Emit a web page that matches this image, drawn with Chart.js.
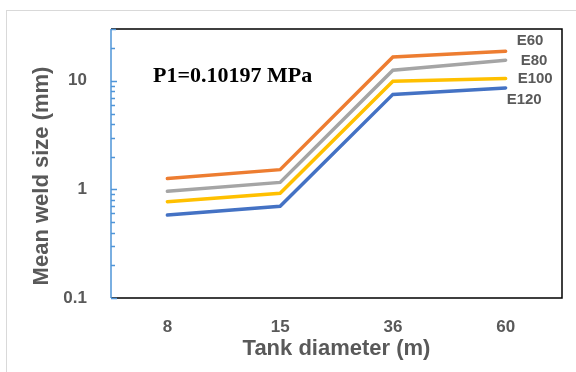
<!DOCTYPE html>
<html>
<head>
<meta charset="utf-8">
<script src="https://cdn.jsdelivr.net/npm/chart.js@4.4.0/dist/chart.umd.min.js"></script>
<style>
  html, body { margin: 0; padding: 0; background: #fff; overflow: hidden; }
  #wrap { position: relative; width: 576px; height: 372px; }
  #frame { position: absolute; left: 6px; top: 10px; width: 620px; height: 420px; border: 1px solid #d9d9d9; }
  canvas { position: absolute; left: 0; top: 0; }
</style>
</head>
<body>
<div id="wrap">
  <div id="frame"></div>
  <canvas id="chartroot" width="576" height="372"></canvas>
</div>
<script>
// data
const diameters = ['8', '15', '36', '60'];
const seriesNames = ['E60', 'E80', 'E100', 'E120'];
const e60 = [1.26, 1.52, 16.6, 18.7];
const e80 = [0.96, 1.16, 12.5, 15.5];
const e100 = [0.77, 0.92, 9.9, 10.5];
const e120 = [0.58, 0.70, 7.5, 8.6];
const yTickLabels = [0.1, 1, 10];

const colorArr = ['#ED7D31', '#A5A5A5', '#FFC000', '#4472C4'];
const textGray = '#595959';
// label offsets (px) from each series' last point
const labelOffsets = [[11, -10], [15, 1], [12, 0], [1, 12]];

// frame + inside tick marks + texts
const extras = {
    id: 'extras',
    afterDraw(chart) {
        const ctx = chart.ctx;
        const a = chart.chartArea;
        const y = chart.scales.y;
        ctx.save();
        // black border top/right/bottom
        ctx.strokeStyle = '#000';
        ctx.lineWidth = 1.5;
        ctx.beginPath();
        ctx.moveTo(a.left, a.top); ctx.lineTo(a.right, a.top);
        ctx.lineTo(a.right, a.bottom); ctx.lineTo(a.left, a.bottom);
        ctx.stroke();
        // blue value axis with minor ticks inside
        ctx.strokeStyle = '#4F95D8';
        ctx.lineWidth = 1.5;
        ctx.beginPath();
        ctx.moveTo(a.left, a.top); ctx.lineTo(a.left, a.bottom);
        for (let d = y.min; d < y.max; d *= 10) {
            for (let m = 1; m < 10; m++) {
                const v = d * m;
                if (v > y.max * 1.0001) break;
                const py = Math.round(y.getPixelForValue(v)) + 0.5;
                const len = m === 1 ? 6 : 4;
                ctx.moveTo(a.left, py); ctx.lineTo(a.left + len, py);
            }
        }
        ctx.moveTo(a.left, a.top + 0.5); ctx.lineTo(a.left + 5, a.top + 0.5);
        ctx.stroke();

        // series end labels
        ctx.fillStyle = textGray;
        ctx.font = 'bold 15px "Liberation Sans", Arial, sans-serif';
        ctx.textBaseline = 'middle';
        ctx.textAlign = 'left';
        chart.data.datasets.forEach((ds, i) => {
            const meta = chart.getDatasetMeta(i);
            const pt = meta.data[meta.data.length - 1];
            ctx.fillText(ds.label, pt.x + labelOffsets[i][0], pt.y + labelOffsets[i][1]);
        });

        // pressure note
        ctx.fillStyle = '#000';
        ctx.font = 'bold 22px "Liberation Serif", "Times New Roman", serif';
        ctx.fillText('P1=0.10197 MPa', 153, 76);

        // y title
        ctx.translate(42, 176);
        ctx.rotate(-Math.PI / 2);
        ctx.textAlign = 'center';
        ctx.fillStyle = textGray;
        ctx.font = 'bold 22px "Liberation Sans", Arial, sans-serif';
        ctx.fillText('Mean weld size (mm)', 0, 0);
        ctx.restore();
    }
};

const ctx = document.getElementById('chartroot');
const chart = new Chart(ctx, {
    type: 'line',
    data: {
        labels: diameters,
        datasets: [e60, e80, e100, e120].map((data, i) => ({
            label: seriesNames[i],
            data,
            borderColor: colorArr[i],
            backgroundColor: colorArr[i],
            borderWidth: 3.5,
            borderCapStyle: 'round',
            borderJoinStyle: 'miter',
            pointRadius: 0,
            tension: 0
        }))
    },
    options: {
        responsive: false,
        animation: false,
        layout: { padding: { left: 0, top: 29, right: 14, bottom: 0 } },
        plugins: {
            legend: { display: false },
            tooltip: { enabled: false }
        },
        scales: {
            x: {
                offset: true,
                grid: { display: false },
                border: { display: false },
                ticks: {
                    color: textGray,
                    padding: 11,
                    font: { family: '"Liberation Sans", Arial, sans-serif', size: 17, weight: 'bold' }
                },
                title: {
                    display: true,
                    text: 'Tank diameter (m)',
                    color: textGray,
                    padding: { top: 0, bottom: 10 },
                    font: { family: '"Liberation Sans", Arial, sans-serif', size: 22, weight: 'bold' }
                },
                afterFit: scale => { scale.height = 74; }
            },
            y: {
                type: 'logarithmic',
                min: 0.1,
                max: 30,
                grid: { display: false },
                border: { display: false },
                ticks: {
                    autoSkip: false,
                    color: textGray,
                    padding: 16,
                    font: { family: '"Liberation Sans", Arial, sans-serif', size: 17, weight: 'bold' },
                    callback: value => yTickLabels.some(v => Math.abs(v - value) < 1e-9) ? String(value) : ''
                },
                afterFit: scale => { scale.width = 111; }
            }
        }
    },
    plugins: [extras]
});
</script>
</body>
</html>
